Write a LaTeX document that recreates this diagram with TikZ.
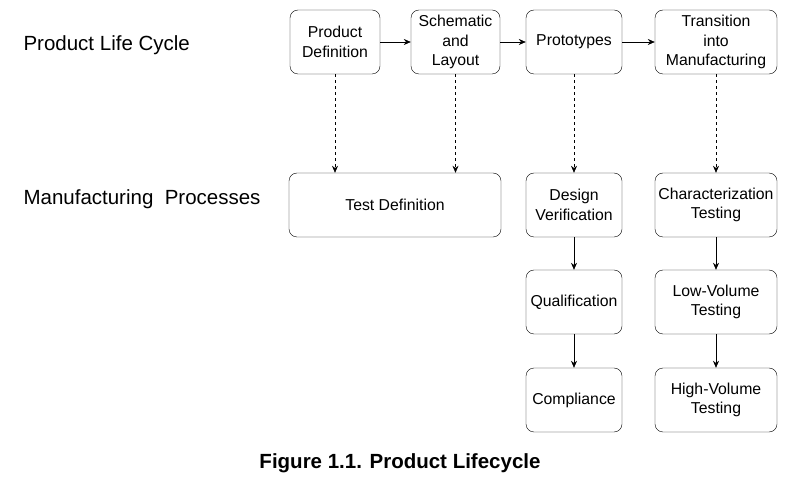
\documentclass[tikz,border=0pt]{standalone}
\usepackage{fontspec}
\setmainfont{Liberation Sans}
\usetikzlibrary{arrows.meta}
\begin{document}
\begin{tikzpicture}[x=1pt,y=-1pt,
  box/.style={draw,rounded corners=8pt,align=center,font=\fontsize{15.8}{19.5}\selectfont,inner sep=0pt},
  arr/.style={-{Stealth[length=7pt,width=6pt]},semithick},
  darr/.style={arr,dashed}]
\useasboundingbox (0,0) rectangle (793,478);
\node[box,minimum width=90pt,minimum height=64pt] (pd) at (335,42) {Product\\Definition};
\node[box,minimum width=89pt,minimum height=64pt] (sl) at (455.5,42) {Schematic\\and\\Layout};
\node[box,minimum width=96pt,minimum height=64pt] (pr) at (574,42) {Prototypes};
\node[box,minimum width=122pt,minimum height=64pt] (tm) at (716,42) {Transition\\into\\Manufacturing};
\node[box,minimum width=212pt,minimum height=64pt] (td) at (395,205) {Test Definition};
\node[box,minimum width=96pt,minimum height=64pt] (dv) at (574,205) {Design\\Verification};
\node[box,minimum width=122pt,minimum height=64pt] (ct) at (716,205) {Characterization\\Testing};
\node[box,minimum width=96pt,minimum height=64pt] (qu) at (574,302) {Qualification};
\node[box,minimum width=122pt,minimum height=64pt] (lv) at (716,302) {Low-Volume\\Testing};
\node[box,minimum width=96pt,minimum height=64pt] (co) at (574,400) {Compliance};
\node[box,minimum width=122pt,minimum height=64pt] (hv) at (716,400) {High-Volume\\Testing};
\node[anchor=west,font=\fontsize{20.5}{24}\selectfont] (l1) at (20,45) {Product Life Cycle};
\node[anchor=west,font=\fontsize{20.5}{24}\selectfont] (l2) at (20,199) {Manufacturing\ \ Processes};
\node[font=\bfseries\fontsize{20.5}{24}\selectfont] (ti) at (400,463) {Figure 1.1. Product Lifecycle};
\draw[arr] (pd) -- (sl);
\draw[arr] (sl) -- (pr);
\draw[arr] (pr) -- (tm);
\draw[darr] (pd.south) -- (pd.south |- td.north);
\draw[darr] (sl.south) -- (sl.south |- td.north);
\draw[darr] (pr) -- (dv);
\draw[darr] (tm) -- (ct);
\draw[arr] (dv) -- (qu);
\draw[arr] (qu) -- (co);
\draw[arr] (ct) -- (lv);
\draw[arr] (lv) -- (hv);
\end{tikzpicture}
\end{document}
